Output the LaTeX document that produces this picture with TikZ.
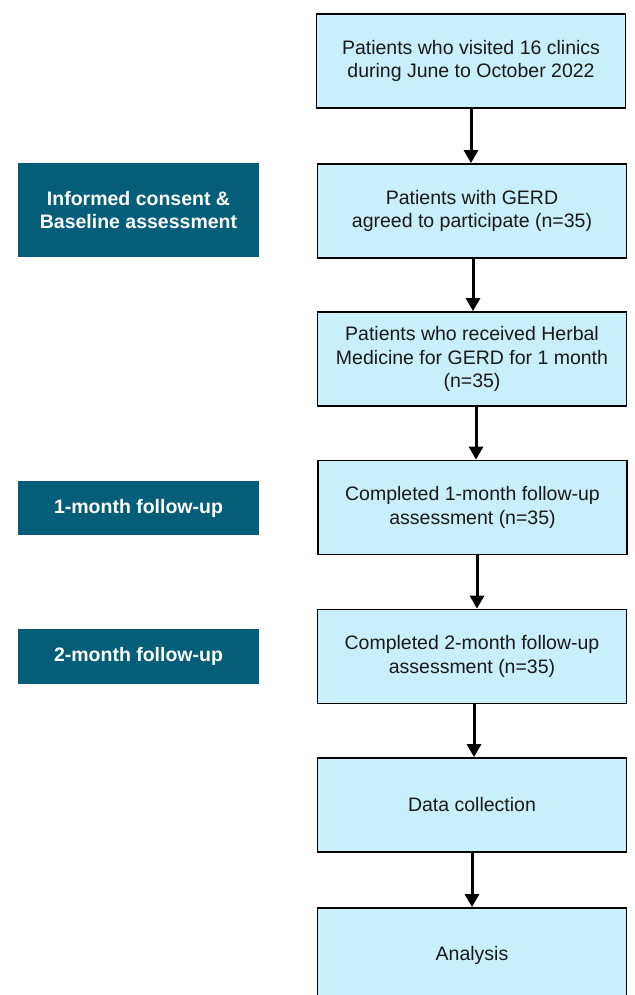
\documentclass[tikz,border=0pt]{standalone}
\usepackage{fontspec}
\setmainfont{Liberation Sans}
\usetikzlibrary{arrows.meta}
\definecolor{boxfill}{HTML}{C9EFFC}
\definecolor{teal}{HTML}{045D79}
\begin{document}
\begin{tikzpicture}[x=1pt,y=-1pt,
  flowbox/.style={draw=black,line width=1.8pt,fill=boxfill,minimum width=309pt,minimum height=94pt,
    align=center,font=\fontsize{19.5}{23.5}\selectfont,text=black!90,inner sep=0pt},
  stagebox/.style={fill=teal,minimum width=241pt,align=center,
    font=\fontsize{19.5}{23}\selectfont\bfseries,text=white,inner sep=0pt},
  flowarrow/.style={line width=3pt,-{Triangle[width=14pt,length=13pt]}}]
\clip (0,0) rectangle (634,995);
\fill[white] (0,0) rectangle (634,995);
\node[flowbox] (b1) at (471,61) {Patients who visited 16 clinics\\during June to October 2022};
\node[flowbox] (b2) at (472,211) {Patients with GERD\\agreed to participate (n=35)};
\node[flowbox] (b3) at (472,359) {Patients who received Herbal\\Medicine for GERD for 1 month\\(n=35)};
\node[flowbox] (b4) at (472.5,507.5) {Completed 1-month follow-up\\assessment (n=35)};
\node[flowbox] (b5) at (472,656.5) {Completed 2-month follow-up\\assessment (n=35)};
\node[flowbox] (b6) at (472,805) {Data collection};
\node[flowbox] (b7) at (472,955) {Analysis};
\node[stagebox,minimum height=94pt] (l1) at (138.5,210) {Informed consent \&\\Baseline assessment};
\node[stagebox,minimum height=54pt] (l2) at (138.5,508) {1-month follow-up};
\node[stagebox,minimum height=55pt] (l3) at (138.5,656.5) {2-month follow-up};
\draw[flowarrow] (b1.south -| 471,0) -- (b2.north -| 471,0);
\draw[flowarrow] (b2.south -| 473,0) -- (b3.north -| 473,0);
\draw[flowarrow] (b3.south -| 476,0) -- (b4.north -| 476,0);
\draw[flowarrow] (b4.south -| 477,0) -- (b5.north -| 477,0);
\draw[flowarrow] (b5.south -| 474,0) -- (b6.north -| 474,0);
\draw[flowarrow] (b6.south -| 472,0) -- (b7.north -| 472,0);
\end{tikzpicture}
\end{document}
